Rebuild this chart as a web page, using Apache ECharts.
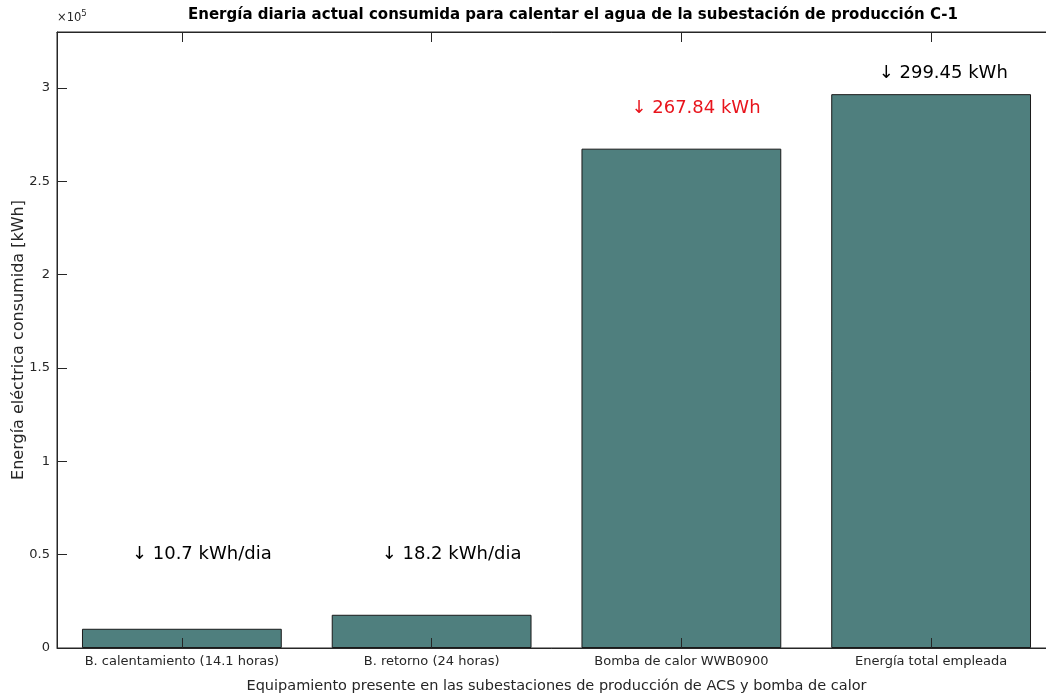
<!DOCTYPE html>
<html>
<head>
<meta charset="utf-8">
<script src="https://cdn.jsdelivr.net/npm/echarts@6/dist/echarts.min.js"></script>
<style>
html,body{margin:0;padding:0;background:#fff;}
#c{width:1046px;height:700px;}
</style>
</head>
<body>
<div id="c"></div>
<script>
// ---- data ----
const categories = ['B. calentamiento (14.1 horas)', 'B. retorno (24 horas)', 'Bomba de calor WWB0900', 'Energía total empleada'];
const energyValues = [10300, 17800, 267500, 296700];
const yTicks = [0, 50000, 100000, 150000, 200000, 250000, 300000];
const annotationTexts = ['↓ 10.7 kWh/dia', '↓ 18.2 kWh/dia', '↓ 267.84 kWh', '↓ 299.45 kWh'];
const annotationX = [0.8, 1.8, 2.8, 3.79];
const annotationY = [50000, 50000, 289000, 308000];
const annotationColors = ['#000000', '#000000', '#e8141c', '#000000'];

const titleText = 'Energía diaria actual consumida para calentar el agua de la subestación de producción C-1';
const xTitle = 'Equipamiento presente en las subestaciones de producción de ACS y bomba de calor';
const yTitle = 'Energía eléctrica consumida [kWh]';

const axisColor = '#262626';
const font = 'DejaVu Sans';

const chart = echarts.init(document.getElementById('c'), null, {renderer: 'canvas'});

const grid = {
  left: 57, top: 32, width: 999, height: 616,
  outerBoundsMode: 'none', containLabel: false,
  show: true, borderColor: axisColor, borderWidth: 1, backgroundColor: 'transparent'
};

const annData = annotationX.map((x, i) => ({
  value: [x, annotationY[i]],
  label: {color: annotationColors[i], formatter: annotationTexts[i]}
}));

const lineStyle = {show: true, onZero: false, lineStyle: {color: axisColor}};
const catTick = {show: true, inside: true, length: 10, alignWithLabel: true, interval: 0, lineStyle: {color: axisColor}};
const valTick = {show: true, inside: true, length: 10, lineStyle: {color: axisColor}};

const option = {
  animation: false,
  backgroundColor: '#ffffff',
  textStyle: {fontFamily: font},
  title: {
    text: titleText,
    left: 568, top: 3, textAlign: 'center',
    textStyle: {fontFamily: font, fontSize: 15, fontWeight: 'bold', color: '#000'}
  },
  grid: grid,
  xAxis: [
    {
      type: 'category', data: categories, position: 'bottom', z: 10,
      axisLine: lineStyle,
      axisTick: catTick,
      axisLabel: {color: axisColor, fontSize: 13, fontFamily: font, margin: 7, interval: 0, hideOverlap: false},
      name: xTitle, nameLocation: 'middle', nameGap: 31,
      nameTextStyle: {color: axisColor, fontSize: 14.5, fontFamily: font}
    },
    {
      type: 'category', data: categories, position: 'top', z: 10,
      axisLine: lineStyle,
      axisTick: catTick,
      axisLabel: {show: false, interval: 0}
    },
    {
      type: 'value', min: 0.5, max: 4.5, position: 'bottom', show: false
    }
  ],
  yAxis: [
    {
      type: 'value', min: 0, max: 330000, interval: 50000, position: 'left', z: 10,
      axisLine: lineStyle,
      axisTick: valTick,
      splitLine: {show: false},
      axisLabel: {
        color: axisColor, fontSize: 13, fontFamily: font, margin: 7,
        showMaxLabel: false,
        formatter: v => (yTicks.indexOf(v) >= 0 ? String(v / 100000) : '')
      },
      name: yTitle, nameLocation: 'middle', nameGap: 30, nameRotate: 90, nameMoveOverlap: false,
      nameTextStyle: {color: axisColor, fontSize: 16, fontFamily: font}
    },
    {
      type: 'value', min: 0, max: 330000, interval: 50000, position: 'right', z: 10,
      axisLine: lineStyle,
      axisTick: valTick,
      splitLine: {show: false},
      axisLabel: {show: false}
    }
  ],
  graphic: [
    {
      type: 'text', left: 57, top: 9,
      style: {
        text: '{a|×10}{s|5}',
        rich: {
          a: {fontSize: 11.5, fontFamily: font, fill: axisColor, verticalAlign: 'bottom'},
          s: {fontSize: 8.5, fontFamily: font, fill: axisColor, verticalAlign: 'top', padding: [0, 0, 6, 0]}
        }
      }
    }
  ],
  series: [
    {
      type: 'bar', xAxisIndex: 0, yAxisIndex: 0,
      data: energyValues, barWidth: '80%',
      itemStyle: {color: '#4f7f7e', borderColor: '#1a1a1a', borderWidth: 1}
    },
    {
      type: 'scatter', xAxisIndex: 2, yAxisIndex: 0,
      data: annData, symbolSize: 0, silent: true, z: 20,
      itemStyle: {opacity: 1},
      label: {show: true, position: 'right', distance: 0, fontSize: 18, fontFamily: font, align: 'left', verticalAlign: 'middle', opacity: 1}
    }
  ]
};
chart.setOption(option);
</script>
</body>
</html>
